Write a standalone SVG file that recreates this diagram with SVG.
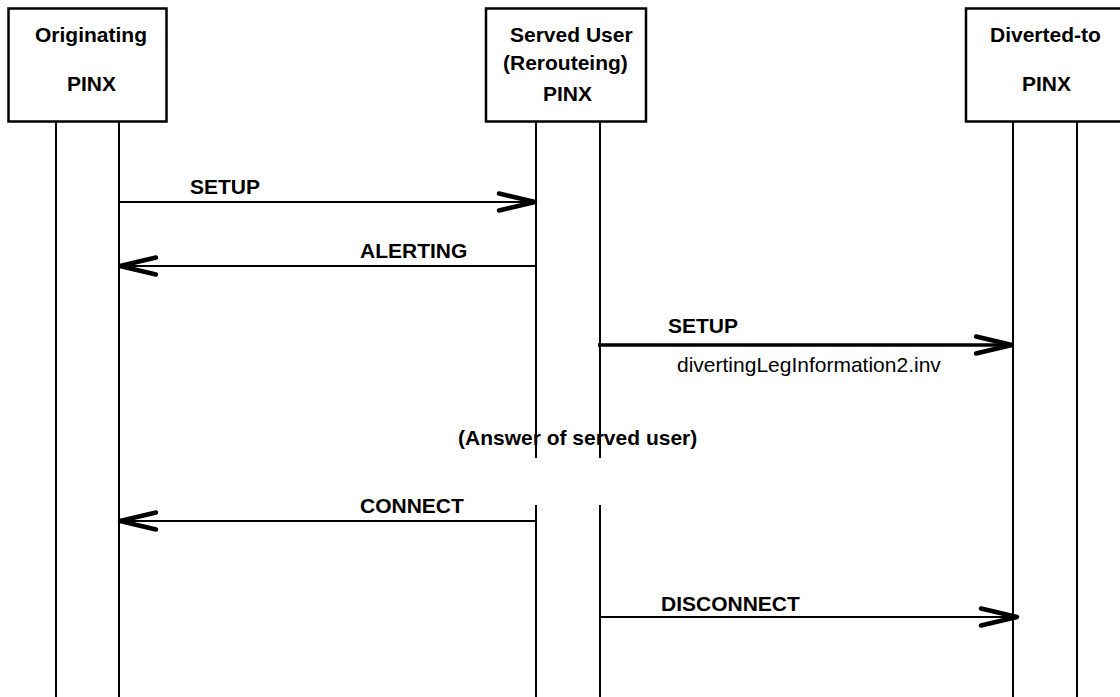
<svg xmlns="http://www.w3.org/2000/svg" width="1120" height="697" viewBox="0 0 1120 697">
  <style>
    .box { fill: #fff; stroke: #000; stroke-width: 2.5; }
    .life { stroke: #000; stroke-width: 2; fill: none; }
    .msg { stroke: #000; stroke-width: 2; fill: none; }
    .thick { stroke-width: 3.5; }
    .b { font-family: "Liberation Sans", Arial, sans-serif; font-weight: bold; font-size: 21px; fill: #000; }
    .n { font-family: "Liberation Sans", Arial, sans-serif; font-size: 21px; fill: #000; }
  </style>
  <defs>
    <marker id="arr" markerUnits="userSpaceOnUse" markerWidth="50" markerHeight="30" refX="0" refY="0" orient="auto" overflow="visible">
      <path d="M -36 -8.5 L 0 0 L -36 8.5" fill="none" stroke="#000" stroke-width="4.5" stroke-linecap="round" stroke-linejoin="round"/>
    </marker>
  </defs>
  <rect width="1120" height="697" fill="#fff"/>

  <g id="answer">
    <text class="b" x="458" y="445">(Answer of served user)</text>
  </g>

  <g id="orig">
    <rect class="box" x="8.5" y="8.5" width="158" height="113"/>
    <text class="b" x="35" y="42">Originating</text>
    <text class="b" x="67" y="91">PINX</text>
    <line class="life" x1="56" y1="122" x2="56" y2="697"/>
    <line class="life" x1="119" y1="122" x2="119" y2="697"/>
  </g>

  <g id="served">
    <rect class="box" x="486" y="8.5" width="160" height="113"/>
    <text class="b" x="510" y="42">Served User</text>
    <text class="b" x="503" y="70">(Rerouteing)</text>
    <text class="b" x="543" y="101">PINX</text>
    <line class="life" x1="536" y1="122" x2="536" y2="458"/>
    <line class="life" x1="600" y1="122" x2="600" y2="458"/>
    <line class="life" x1="536" y1="505" x2="536" y2="697"/>
    <line class="life" x1="600" y1="505" x2="600" y2="697"/>
  </g>

  <g id="diverted">
    <rect class="box" x="966" y="8.5" width="170" height="113"/>
    <text class="b" x="990" y="42">Diverted-to</text>
    <text class="b" x="1022" y="91">PINX</text>
    <line class="life" x1="1013" y1="122" x2="1013" y2="697"/>
    <line class="life" x1="1077" y1="122" x2="1077" y2="697"/>
  </g>

  <g id="connectors">
    <line class="msg" x1="119" y1="202" x2="535" y2="202" marker-end="url(#arr)"/>
    <text class="b" x="190" y="194">SETUP</text>

    <line class="msg" x1="536" y1="266" x2="120" y2="266" marker-end="url(#arr)"/>
    <text class="b" x="360" y="258">ALERTING</text>

    <line class="msg thick" x1="598" y1="345" x2="1012" y2="345" marker-end="url(#arr)"/>
    <text class="b" x="668" y="333">SETUP</text>
    <text class="n" x="677" y="372">divertingLegInformation2.inv</text>

    <line class="msg" x1="536" y1="521" x2="120" y2="521" marker-end="url(#arr)"/>
    <text class="b" x="360" y="513">CONNECT</text>

    <line class="msg" x1="600" y1="617" x2="1017" y2="617" marker-end="url(#arr)"/>
    <text class="b" x="661" y="611">DISCONNECT</text>
  </g>
</svg>
